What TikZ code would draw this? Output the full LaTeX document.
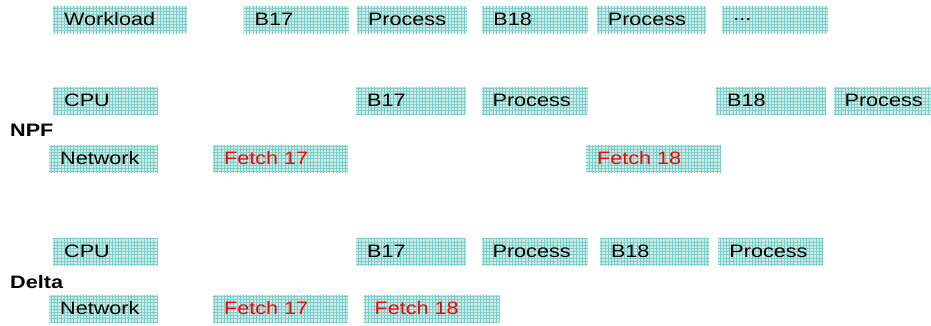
\documentclass[tikz,border=0pt]{standalone}
\usepackage{fontspec}
\setmainfont{Liberation Sans}[FakeStretch=1.2]
\usetikzlibrary{positioning}
\usetikzlibrary{patterns.meta}
\definecolor{slotfill}{HTML}{CDEEEB}
\definecolor{slotgrid}{HTML}{78CDC7}
\tikzset{
  slot/.style={anchor=west,
    minimum height=27pt,
    inner xsep=11pt, inner ysep=0pt,
    text width=#1pt-22pt, align=left,
    preaction={fill=slotfill},
    pattern={Hatch[angle=0,distance=3.2pt,line width=0.45pt]},
    pattern color=slotgrid,
    font=\fontsize{18}{20}\selectfont},
  fetch/.style={slot=#1, text=red},
  rowlabel/.style={anchor=west, inner sep=0pt,
    font=\fontsize{18}{20}\selectfont\bfseries}
}

\begin{document}
\begin{tikzpicture}[x=1pt,y=-1pt]
\useasboundingbox (0,0) rectangle (931,325);

% Workload row
\node[slot=134] (wl) at (53,19.5) {Workload};
\node[slot=105, right=56pt of wl] (wlBa) {B17};
\node[slot=110, right=8pt of wlBa] (wlPa) {Process};
\node[slot=106, right=15pt of wlPa] (wlBb) {B18};
\node[slot=109, right=8pt of wlBb] (wlPb) {Process};
\node[slot=106, right=16pt of wlPb] (wlDots) {...};

% NPF
\node[rowlabel] (npf) at (10,130) {NPF};
\node[slot=105] (npfCpu) at (53,100.5) {CPU};
\node[slot=110] (npfBa) at (356,100.5) {B17};
\node[slot=106, right=15pt of npfBa] (npfPa) {Process};
\node[slot=110] (npfBb) at (716,100.5) {B18};
\node[slot=100, right=7pt of npfBb] (npfPb) {Process};

\node[slot=109] (npfNet) at (49,158.5) {Network};
\node[fetch=135] (npfFa) at (213,158.5) {Fetch 17};
\node[fetch=135] (npfFb) at (586,158.5) {Fetch 18};

% Delta
\node[rowlabel] (delta) at (10,282) {Delta};
\node[slot=105] (dCpu) at (53,251.5) {CPU};
\node[slot=110] (dBa) at (356,251.5) {B17};
\node[slot=106, right=15pt of dBa] (dPa) {Process};
\node[slot=109, right=12pt of dPa] (dBb) {B18};
\node[slot=105, right=9pt of dBb] (dPb) {Process};

\node[slot=109] (dNet) at (49,308.5) {Network};
\node[fetch=135] (dFa) at (213,308.5) {Fetch 17};
\node[fetch=136, right=15pt of dFa] (dFb) {Fetch 18};

\end{tikzpicture}
\end{document}
